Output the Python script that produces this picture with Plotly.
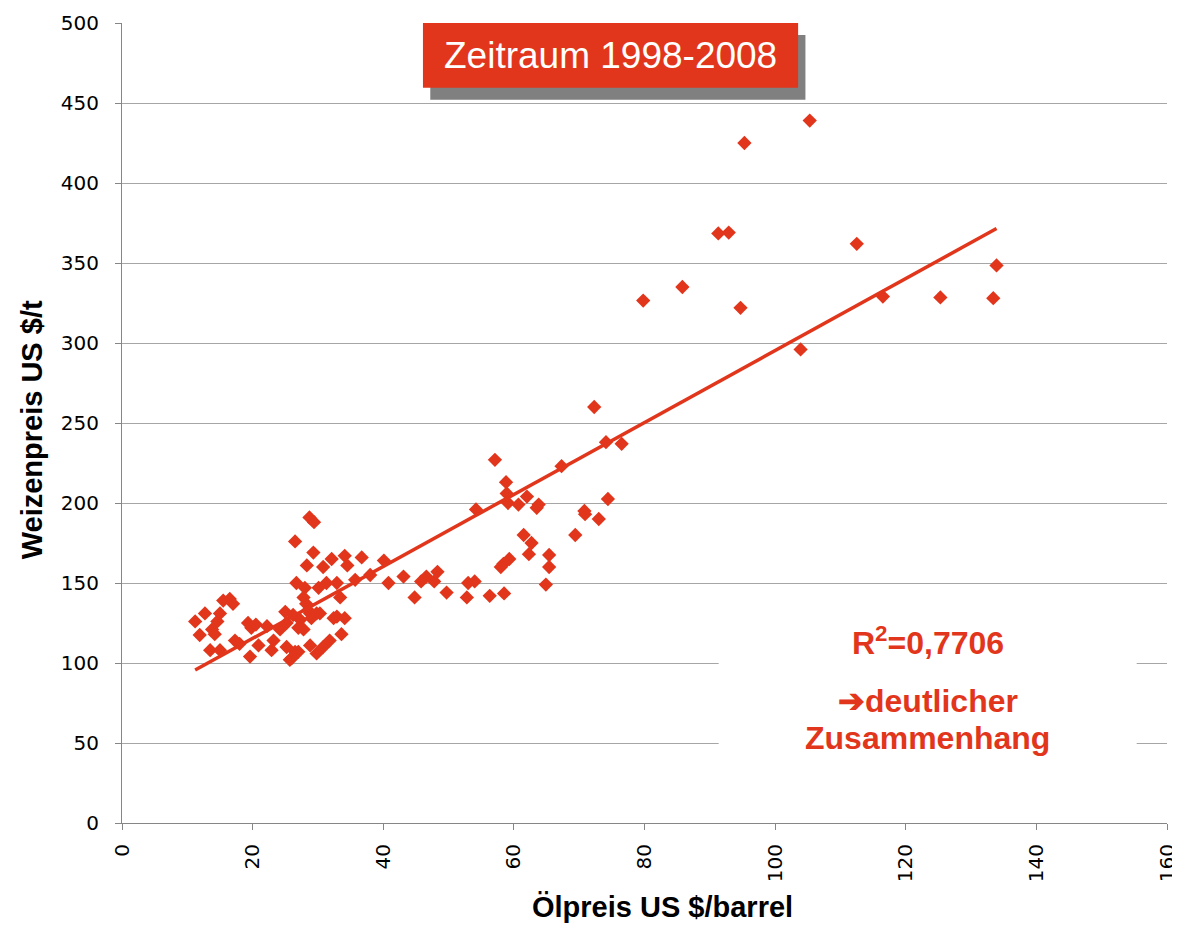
import numpy as np
import plotly.graph_objects as go

# Oil price (US $/barrel) vs wheat price (US $/t), 1998-2008
oil = [11.2, 11.9, 12.7, 13.5, 13.8, 14.2, 14.6, 15.0, 15.0, 15.5, 16.5, 17.0, 17.3, 18.0,
       19.3, 19.6, 19.8, 20.5, 20.9, 22.2, 22.9, 23.2, 24.2, 25.0, 25.2, 25.2, 25.7, 26.0,
       26.2, 26.5, 26.5, 26.7, 27.0, 27.0, 27.3, 27.8, 27.8, 28.0, 28.2, 28.3, 28.5, 28.7,
       28.8, 28.8, 29.0, 29.3, 29.4, 29.8, 29.8, 30.1, 30.3, 30.8, 30.8, 31.3, 31.8, 32.1,
       32.4, 32.9, 32.9, 33.4, 33.6, 34.1, 34.1, 34.5, 35.7, 36.7, 38.0,
       40.1, 40.8, 43.1, 44.8, 45.8, 46.6, 47.8, 48.3, 49.7, 52.8, 53.0, 54.0, 54.2, 56.3,
       57.1, 58.0, 58.4, 58.5, 58.8, 58.9, 59.1, 59.3, 60.7, 61.5, 62.0, 62.3, 62.7, 63.5,
       63.8, 64.9, 65.4, 65.4, 67.3, 69.4, 70.8, 70.9, 72.3, 73.0, 74.1, 74.4, 76.5,
       79.8, 85.8, 91.3, 92.9, 94.7, 95.3, 103.9, 105.3, 112.5, 116.5, 125.3, 133.4, 133.9]
wheat = [126, 117.5, 131, 108, 121, 118, 126, 108, 131, 139, 140, 137, 114, 112,
         125, 104, 122, 124, 111, 123, 108, 114, 121, 132, 125, 110, 102, 103,
         130, 107, 176, 150, 122, 107, 127, 141, 121, 147, 137, 161, 133, 191,
         131, 111, 128, 169, 188, 106, 131, 147, 131, 160, 110, 150, 114, 165,
         128, 150, 129, 141, 118, 128, 167, 161, 152, 166, 155,
         164, 150, 154, 141, 151, 154, 151, 157, 144, 141, 150, 151, 196, 142,
         227, 160, 162, 143.5, 213, 206, 200, 165, 199, 180, 204, 168, 175, 197,
         199, 149, 167.5, 160, 223, 180, 195, 193, 260, 190, 238, 202.5, 237,
         326.5, 335, 368.5, 369, 322, 425, 296, 439, 362, 329, 328.5, 328, 348.5]

# linear trend as shown on the chart
trend_slope = 2.249
trend_intercept = 70.4
r_squared = "0,7706"

red = "#E2361C"
grid = "#A6A6A6"
axis_grey = "#868686"

trend_x = np.array([min(oil), max(oil)])
trend_y = trend_slope * trend_x + trend_intercept

fig = go.Figure()
fig.add_trace(go.Scatter(
    x=oil, y=wheat, mode="markers",
    marker=dict(symbol="diamond", size=11, color=red, line=dict(width=0)),
    showlegend=False
))
fig.add_trace(go.Scatter(
    x=trend_x, y=trend_y, mode="lines",
    line=dict(color=red, width=3.5),
    showlegend=False
))

# white panel behind the R² note (hides gridlines)
fig.add_shape(type="rect", xref="paper", yref="paper",
              x0=0.571, x1=0.971, y0=0.075, y1=0.26,
              fillcolor="white", line=dict(width=0), layer="above")

# title box with shadow
fig.add_shape(type="rect", xref="paper", yref="paper",
              x0=0.295, x1=0.654, y0=0.904, y1=0.985,
              fillcolor="#808080", line=dict(width=0), layer="above")
fig.add_shape(type="rect", xref="paper", yref="paper",
              x0=0.288, x1=0.647, y0=0.919, y1=1.0,
              fillcolor=red, line=dict(width=0), layer="above")
fig.add_annotation(xref="paper", yref="paper", x=0.4675, y=0.9595,
                   xanchor="center", yanchor="middle",
                   text="Zeitraum 1998-2008", showarrow=False,
                   font=dict(family="Liberation Sans, Arial", size=37, color="white"))

note_font = dict(family="Liberation Sans, Arial", size=32, color=red)
fig.add_annotation(xref="paper", yref="paper", x=0.771, y=0.228,
                   xanchor="center", yanchor="middle",
                   text="<b>R<sup>2</sup>=" + r_squared + "</b>", showarrow=False, font=note_font)
fig.add_annotation(xref="paper", yref="paper", x=0.771, y=0.152,
                   xanchor="center", yanchor="middle",
                   text="<b>➔deutlicher</b>", showarrow=False, font=note_font)
fig.add_annotation(xref="paper", yref="paper", x=0.771, y=0.106,
                   xanchor="center", yanchor="middle",
                   text="<b>Zusammenhang</b>", showarrow=False, font=note_font)

# axis titles placed as annotations to match the original offsets
title_font = dict(family="Liberation Sans, Arial", size=29, color="black")
fig.add_annotation(xref="paper", yref="paper", x=0.517, y=-0.105,
                   xanchor="center", yanchor="middle",
                   text="<b>Ölpreis US $/barrel</b>", showarrow=False, font=title_font)
fig.add_annotation(xref="paper", yref="paper", x=-0.086, y=0.491,
                   xanchor="center", yanchor="middle", textangle=-90,
                   text="<b>Weizenpreis US $/t</b>", showarrow=False, font=title_font)

tick_font = dict(family="DejaVu Sans", size=20, color="black")

# the page body adds an 8px margin, so the figure is sized to fit the window
fig.update_layout(
    width=1172, height=917,
    margin=dict(l=114, r=13, t=15, b=102),
    plot_bgcolor="white", paper_bgcolor="white",
    xaxis=dict(
        range=[0, 160], dtick=20, tickangle=-90, automargin=False,
        showgrid=False, zeroline=False,
        showline=True, linecolor=axis_grey, linewidth=1,
        ticks="outside", ticklen=6, tickcolor=axis_grey,
        tickfont=tick_font, ticklabelstandoff=6,
    ),
    yaxis=dict(
        range=[0, 500], dtick=50, automargin=False,
        showgrid=True, gridcolor=grid, gridwidth=1, zeroline=False,
        showline=True, linecolor=axis_grey, linewidth=1,
        ticks="outside", ticklen=6, tickcolor=axis_grey,
        tickfont=tick_font, ticklabelstandoff=12,
    ),
)

fig.write_html("out.html")
